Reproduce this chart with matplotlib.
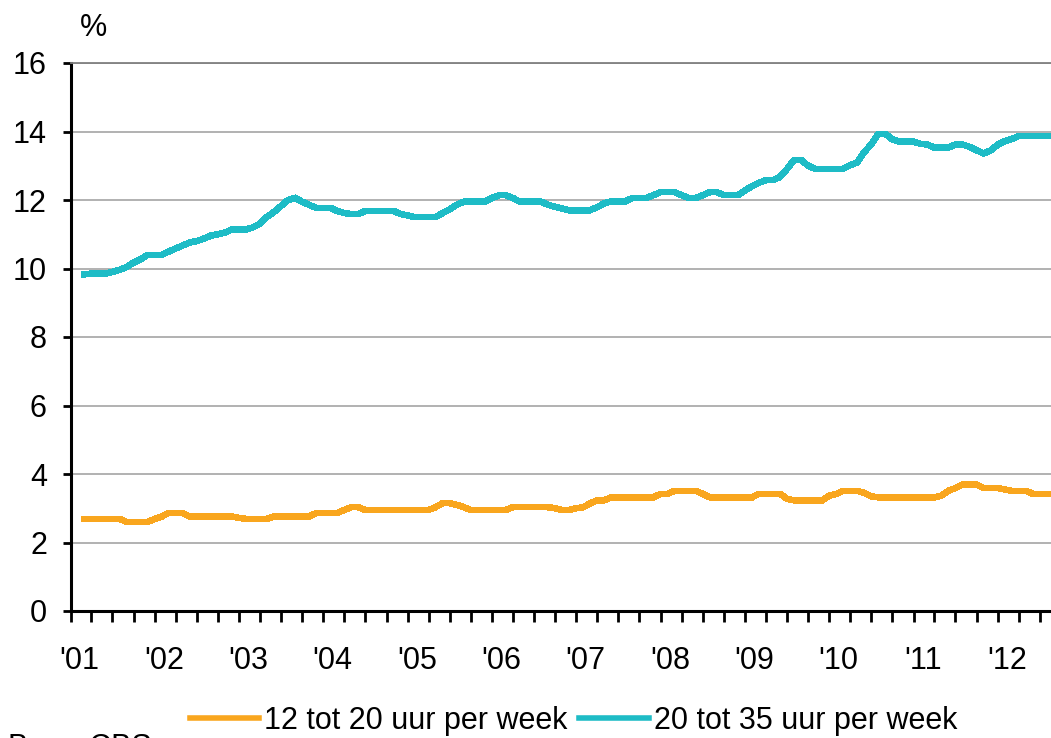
import numpy as np
import pandas as pd
import matplotlib
matplotlib.use("Agg")
import matplotlib.pyplot as plt

# =========================
# 1. Gegevens (in %)
# =========================

# maandcijfers, eerste punt maart 2001
eerste_maand = "2001-03-01"

uur_12_20 = [
    2.69, 2.69, 2.69, 2.69, 2.69, 2.69, 2.60, 2.60, 2.60, 2.60,
    2.69, 2.76, 2.86, 2.86, 2.86, 2.76, 2.76, 2.76, 2.76, 2.76,
    2.76, 2.76, 2.72, 2.69, 2.69, 2.69, 2.69, 2.76, 2.76, 2.76,
    2.76, 2.76, 2.76, 2.86, 2.86, 2.86, 2.86, 2.95, 3.03, 3.03,
    2.95, 2.95, 2.95, 2.95, 2.95, 2.95, 2.95, 2.95, 2.95, 2.95,
    3.03, 3.15, 3.15, 3.10, 3.03, 2.95, 2.95, 2.95, 2.95, 2.95,
    2.95, 3.03, 3.03, 3.03, 3.03, 3.03, 3.03, 3.00, 2.95, 2.95,
    3.00, 3.03, 3.14, 3.23, 3.23, 3.32, 3.32, 3.32, 3.32, 3.32,
    3.32, 3.32, 3.42, 3.42, 3.51, 3.51, 3.51, 3.51, 3.42, 3.32,
    3.32, 3.32, 3.32, 3.32, 3.32, 3.32, 3.42, 3.42, 3.42, 3.42,
    3.28, 3.23, 3.23, 3.23, 3.23, 3.23, 3.37, 3.42, 3.51, 3.51,
    3.51, 3.45, 3.35, 3.32, 3.32, 3.32, 3.32, 3.32, 3.32, 3.32,
    3.32, 3.32, 3.37, 3.51, 3.59, 3.69, 3.69, 3.69, 3.59, 3.59,
    3.59, 3.55, 3.51, 3.51, 3.51, 3.42, 3.42, 3.42, 3.42,
]

uur_20_35 = [
    9.83, 9.85, 9.85, 9.85, 9.90, 9.96, 10.04, 10.17, 10.27, 10.40,
    10.40, 10.40, 10.49, 10.58, 10.67, 10.76, 10.80, 10.87, 10.96, 11.00,
    11.05, 11.14, 11.14, 11.14, 11.20, 11.30, 11.50, 11.65, 11.82, 12.00,
    12.06, 11.95, 11.86, 11.77, 11.77, 11.77, 11.68, 11.62, 11.59, 11.59,
    11.68, 11.68, 11.68, 11.68, 11.68, 11.59, 11.55, 11.50, 11.50, 11.50,
    11.50, 11.62, 11.72, 11.86, 11.95, 11.95, 11.95, 11.95, 12.06, 12.14,
    12.14, 12.06, 11.95, 11.95, 11.95, 11.95, 11.86, 11.80, 11.75, 11.70,
    11.70, 11.70, 11.70, 11.79, 11.90, 11.96, 11.96, 11.96, 12.06, 12.06,
    12.06, 12.14, 12.23, 12.23, 12.23, 12.14, 12.06, 12.06, 12.14, 12.23,
    12.23, 12.14, 12.14, 12.14, 12.28, 12.41, 12.50, 12.58, 12.58, 12.67,
    12.90, 13.17, 13.17, 13.00, 12.91, 12.91, 12.91, 12.91, 12.91, 13.02,
    13.09, 13.40, 13.62, 13.93, 13.93, 13.77, 13.70, 13.70, 13.70, 13.64,
    13.62, 13.53, 13.53, 13.53, 13.62, 13.62, 13.55, 13.45, 13.36, 13.45,
    13.62, 13.72, 13.78, 13.87, 13.87, 13.87, 13.87, 13.87, 13.87,
]

legenda = ["12 tot 20 uur per week", "20 tot 35 uur per week"]
jaar_labels = ["'01", "'02", "'03", "'04", "'05", "'06",
               "'07", "'08", "'09", "'10", "'11", "'12"]
y_waarden = [0, 2, 4, 6, 8, 10, 12, 14, 16]

kleur_oranje = "#F9A61E"
kleur_cyaan = "#1EBCC6"

# =========================
# 2. Figuur
# =========================

plt.rcParams["font.family"] = ["Liberation Sans", "DejaVu Sans"]
plt.rcParams["font.size"] = 22

W, H = 1051, 738
fig = plt.figure(figsize=(W / 100, H / 100), dpi=100)
ax = fig.add_axes([70.5 / W, 1 - 611 / H, 1 - 70.5 / W, (611 - 63) / H])

maanden = pd.date_range(eerste_maand, periods=len(uur_12_20), freq="MS")

l1, = ax.plot(maanden, uur_12_20, color=kleur_oranje, lw=4,
              antialiased=False, solid_joinstyle="miter", zorder=3)
l2, = ax.plot(maanden, uur_20_35, color=kleur_cyaan, lw=4,
              antialiased=False, solid_joinstyle="miter", zorder=3)

ax.set_xlim(pd.Timestamp("2001-01-01"), pd.Timestamp("2012-08-18"))
ax.set_ylim(0, 16)

# kwartaalstreepjes, jaartallen iets rechts van het jaarbegin
kwartalen = pd.date_range("2001-01-01", "2012-07-01", freq="QS")
ax.set_xticks(kwartalen)
ax.set_xticklabels([])
jaren = pd.date_range("2001-01-01", "2012-01-01", freq="YS") + pd.Timedelta(days=40)
ax.set_xticks(jaren, labels=jaar_labels, minor=True)
ax.tick_params(axis="x", which="major", length=8, width=2, color="black",
               direction="out")
ax.tick_params(axis="x", which="minor", length=0, pad=25)

ax.set_yticks(y_waarden)
ax.tick_params(axis="y", length=6, width=2, color="black", pad=11)

ax.yaxis.grid(True, color="#ABABAB", lw=1.3)
ax.set_axisbelow(True)

for s in ["right"]:
    ax.spines[s].set_visible(False)
ax.spines["top"].set_color("#808080")
ax.spines["top"].set_linewidth(1.3)
ax.spines["left"].set_linewidth(2.2)
ax.spines["bottom"].set_linewidth(2.2)

fig.text(93.5 / W, 1 - 27.5 / H, "%", ha="center", va="center")

fig.legend([l1, l2], legenda, loc="center", bbox_to_anchor=(573.5 / W, 1 - 721 / H),
           ncol=2, frameon=False, handlelength=2.26, handletextpad=0.18,
           columnspacing=0.39, borderpad=0, borderaxespad=0)

# bron, onderaan grotendeels buiten beeld
fig.text(8 / W, 1 - 756 / H, "Bron: CBS", ha="left", va="baseline")

fig.savefig("out.png", dpi=100)
